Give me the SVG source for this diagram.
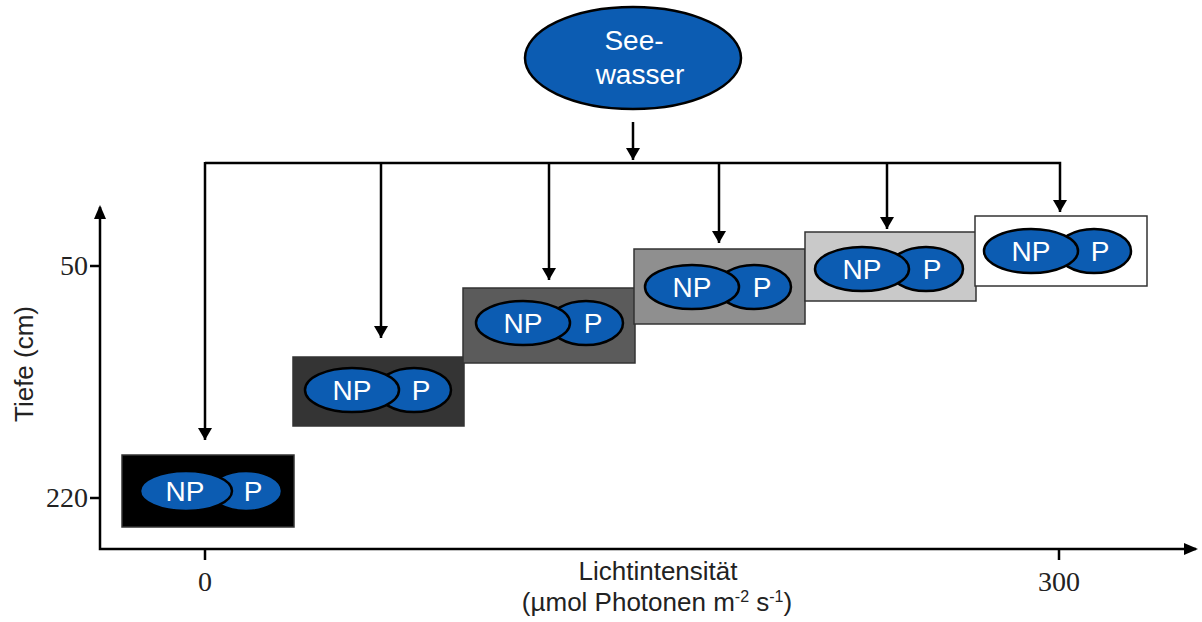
<svg xmlns="http://www.w3.org/2000/svg" width="1202" height="622" viewBox="0 0 1202 622">
  <defs>
    <marker id="arrow" viewBox="0 0 12 14" refX="12" refY="7" markerWidth="12" markerHeight="14" markerUnits="userSpaceOnUse" orient="auto">
      <path d="M0,0 L12,7 L0,14 Z" fill="#000"/>
    </marker>
    <style>
      .box { stroke: #333; stroke-width: 1.5; }
      .cell { fill: #0c5cb2; stroke: #000; stroke-width: 2.5; }
      .cellText { font-family: "Liberation Sans", Arial, sans-serif; font-size: 28px; fill: #fff; text-anchor: middle; }
      .wire { fill: none; stroke: #000; stroke-width: 2.5; }
      .axis { fill: none; stroke: #000; stroke-width: 2.5; }
      .num { font-family: "Liberation Serif", "Times New Roman", serif; font-size: 28px; fill: #222; }
      .label { font-family: "Liberation Sans", Arial, sans-serif; font-size: 26px; fill: #222; }
    </style>
  </defs>

  <rect width="1202" height="622" fill="#fff"/>

  <!-- source: lake water -->
  <g id="seewasser">
    <ellipse cx="633" cy="58" rx="108" ry="51" fill="#0c5cb2" stroke="#000" stroke-width="2.5"/>
    <text x="634" y="50" text-anchor="middle" font-family="Liberation Sans, Arial, sans-serif" font-size="28" fill="#fff">See-</text>
    <text x="640" y="84" text-anchor="middle" font-family="Liberation Sans, Arial, sans-serif" font-size="28" fill="#fff">wasser</text>
  </g>

  <!-- distribution lines -->
  <g id="connectors">
    <line class="wire" x1="633" y1="122" x2="633" y2="160" marker-end="url(#arrow)"/>
    <polyline class="wire" points="205,163 1060,163 1060,212" marker-end="url(#arrow)"/>
    <line class="wire" x1="205" y1="162" x2="205" y2="440" marker-end="url(#arrow)"/>
    <line class="wire" x1="381" y1="163" x2="381" y2="338" marker-end="url(#arrow)"/>
    <line class="wire" x1="549" y1="163" x2="549" y2="280" marker-end="url(#arrow)"/>
    <line class="wire" x1="719" y1="163" x2="719" y2="243" marker-end="url(#arrow)"/>
    <line class="wire" x1="887" y1="163" x2="887" y2="229" marker-end="url(#arrow)"/>
  </g>

  <!-- axes -->
  <g id="axes">
    <polyline class="axis" points="100,207 100,549 1196,549"/>
    <path d="M100,205 L94,219 L106,219 Z" fill="#000"/>
    <path d="M1198,549 L1184,543 L1184,555 Z" fill="#000"/>
    <line class="axis" x1="90" y1="266" x2="100" y2="266"/>
    <line class="axis" x1="90" y1="498" x2="100" y2="498"/>
    <line class="axis" x1="205" y1="549" x2="205" y2="560"/>
    <line class="axis" x1="1059" y1="549" x2="1059" y2="560"/>
    <text class="num" x="88" y="275" text-anchor="end">50</text>
    <text class="num" x="88" y="507" text-anchor="end">220</text>
    <text class="num" x="205" y="591" text-anchor="middle">0</text>
    <text class="num" x="1059" y="591" text-anchor="middle">300</text>
    <text class="label" transform="translate(33,364) rotate(-90)" text-anchor="middle">Tiefe (cm)</text>
    <text class="label" x="658" y="580" text-anchor="middle">Lichtintensität</text>
    <text class="label" x="657" y="611" text-anchor="middle">(µmol Photonen m<tspan font-size="16" dy="-9">-2</tspan><tspan dy="9"> s</tspan><tspan font-size="16" dy="-9">-1</tspan><tspan dy="9">)</tspan></text>
  </g>

  <!-- light levels -->
  <g id="level1">
    <rect class="box" x="122" y="455" width="172" height="72" fill="#000"/>
    <ellipse class="cell" cx="246" cy="491" rx="36" ry="20"/>
    <ellipse class="cell" cx="186" cy="491" rx="46" ry="20"/>
    <text class="cellText" x="185" y="501">NP</text>
    <text class="cellText" x="253" y="501">P</text>
  </g>
  <g id="level2">
    <rect class="box" x="293" y="357" width="171" height="69" fill="#343434"/>
    <ellipse class="cell" cx="414" cy="390" rx="37" ry="22"/>
    <ellipse class="cell" cx="352" cy="390" rx="47" ry="22"/>
    <text class="cellText" x="352" y="400">NP</text>
    <text class="cellText" x="421" y="400">P</text>
  </g>
  <g id="level3">
    <rect class="box" x="463" y="288" width="172" height="75" fill="#5b5b5b"/>
    <ellipse class="cell" cx="586" cy="323" rx="37" ry="22"/>
    <ellipse class="cell" cx="523" cy="323" rx="47" ry="22"/>
    <text class="cellText" x="523" y="333">NP</text>
    <text class="cellText" x="593" y="333">P</text>
  </g>
  <g id="level4">
    <rect class="box" x="634" y="249" width="171" height="75" fill="#8f8f8f"/>
    <ellipse class="cell" cx="754" cy="287" rx="37" ry="22"/>
    <ellipse class="cell" cx="692" cy="287" rx="47" ry="22"/>
    <text class="cellText" x="692" y="297">NP</text>
    <text class="cellText" x="762" y="297">P</text>
  </g>
  <g id="level5">
    <rect class="box" x="805" y="232" width="171" height="69" fill="#c9c9c9"/>
    <ellipse class="cell" cx="926" cy="269" rx="37" ry="22"/>
    <ellipse class="cell" cx="862" cy="269" rx="47" ry="22"/>
    <text class="cellText" x="862" y="279">NP</text>
    <text class="cellText" x="932" y="279">P</text>
  </g>
  <g id="level6">
    <rect class="box" x="975" y="216" width="172" height="70" fill="#fff"/>
    <ellipse class="cell" cx="1094" cy="251" rx="37" ry="22"/>
    <ellipse class="cell" cx="1031" cy="251" rx="47" ry="22"/>
    <text class="cellText" x="1031" y="261">NP</text>
    <text class="cellText" x="1100" y="261">P</text>
  </g>
</svg>
